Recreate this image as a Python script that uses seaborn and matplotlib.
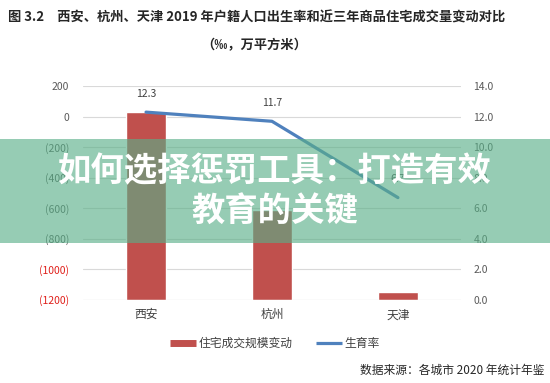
import numpy as np
import matplotlib.pyplot as plt
import pandas as pd
import seaborn as sns
from matplotlib.lines import Line2D
from matplotlib.patches import Rectangle

cities = ['西安', '杭州', '天津']
housing_change = [30, -610, -1150]   # 住宅成交规模变动 (万平方米)
birth_rate = [12.3, 11.7, 6.7]       # 生育率 (‰)
left_ticks = [200, 0, -200, -400, -600, -800, -1000, -1200]
right_ticks = [14, 12, 10, 8, 6, 4, 2, 0]

sns.set_style('white')
plt.rcParams['font.family'] = ['Noto Sans CJK SC', 'DejaVu Sans']

bar_col = '#C0504D'
line_col = '#4F81BD'
grey = '#595959'

df = pd.DataFrame({'city': cities, 'change': housing_change, 'rate': birth_rate})
base = left_ticks[-1]
df['h'] = df['change'] - base

fig = plt.figure(figsize=(5.5, 3.83), dpi=100)
ax = fig.add_axes([0.151, 0.217, 0.687, 0.558])

sns.barplot(data=df, x='city', y='h', bottom=base, color=bar_col, width=0.32,
            saturation=1, ax=ax)
ax.set_ylim(base, left_ticks[0])
ax.set_xlim(-0.5, 2.5)
ax.set_yticks(left_ticks, labels=[f'({abs(v)})' if v < 0 else str(v) for v in left_ticks])
for t, v in zip(ax.get_yticklabels(), left_ticks):
    t.set_color('#E0201B' if v <= -1000 else grey)
ax.tick_params(axis='y', length=0, pad=10, labelsize=7.5)
ax.tick_params(axis='x', length=0, pad=6, labelsize=8.5, labelcolor='#404040')
ax.set_xlabel('')
ax.set_ylabel('')
ax.grid(axis='y', color='#D9D9D9', linewidth=0.8)
ax.set_axisbelow(True)
for s in ax.spines.values():
    s.set_visible(False)
ax.axhline(base, color='#D9D9D9', linewidth=0.8)

ax2 = ax.twinx()
sns.lineplot(x=np.arange(len(cities)), y=df['rate'], color=line_col, linewidth=2.3, ax=ax2)
ax2.set_ylim(right_ticks[-1], right_ticks[0])
ax2.set_yticks(right_ticks, labels=[f'{v:.1f}' for v in right_ticks])
ax2.tick_params(axis='y', length=0, pad=9, labelsize=7.5, labelcolor=grey)
ax2.set_ylabel('')
for s in ax2.spines.values():
    s.set_visible(False)
for i, r in enumerate(birth_rate):
    ax2.annotate(f'{r}', (i, r), xytext=(0, 11), textcoords='offset points',
                 ha='center', fontsize=7.5, color='#404040')

fig.text(0.467, 0.955, '图 3.2　西安、杭州、天津 2019 年户籍人口出生率和近三年商品住宅成交量变动对比',
         ha='center', va='center', fontsize=9.5, fontweight='bold')
fig.text(0.462, 0.883, '（‰，万平方米）', ha='center', va='center', fontsize=9.5, fontweight='bold')

handles = [Line2D([], [], color=bar_col, linewidth=5, solid_capstyle='butt'),
           Line2D([], [], color=line_col, linewidth=2.3, solid_capstyle='butt')]
fig.legend(handles, ['住宅成交规模变动', '生育率'], loc='center', bbox_to_anchor=(0.5, 0.103),
           ncol=2, frameon=False, fontsize=8.5, handlelength=2.2, handletextpad=0.2,
           columnspacing=2.0, labelcolor='#404040')

fig.text(0.99, 0.033, '数据来源：各城市 2020 年统计年鉴', ha='right', va='center', fontsize=8.5)

# overlay banner
fig.add_artist(Rectangle((0, 1 - 243 / 383), 1, 104 / 383, transform=fig.transFigure,
                         facecolor='#59AF88', alpha=0.63, edgecolor='none'))
fig.text(0.5, 0.552, '如何选择惩罚工具：打造有效', ha='center', va='center', fontsize=24,
         fontweight='black', color='white')
fig.text(0.5, 0.447, '教育的关键', ha='center', va='center', fontsize=24,
         fontweight='black', color='white')

fig.savefig('out.png', dpi=100)
